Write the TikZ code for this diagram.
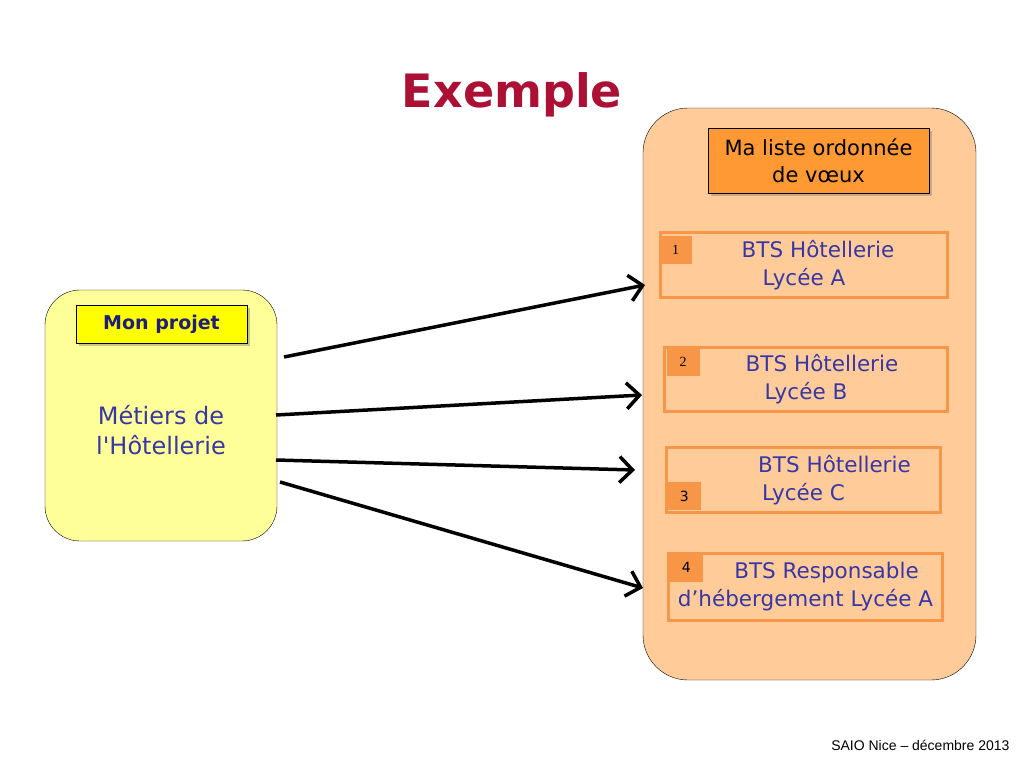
\documentclass[tikz,border=0pt]{standalone}
\usepackage{fontspec}
\setmainfont{DejaVu Sans}
\newfontfamily\footfont{Liberation Sans}
\newfontfamily\numfont{Liberation Serif}
\usepackage{tikz}
\usetikzlibrary{shadows}
\usetikzlibrary{positioning}
\usetikzlibrary{arrows.meta,shapes}
\usetikzlibrary{calc}
\definecolor{paleyellow}{RGB}{255,255,153}
\definecolor{brightyellow}{RGB}{255,255,0}
\definecolor{paleorange}{RGB}{255,204,153}
\definecolor{deeporange}{RGB}{255,153,51}
\definecolor{choiceorange}{RGB}{247,150,70}
\definecolor{inkblue}{RGB}{55,55,165}
\definecolor{navyblue}{RGB}{30,30,125}
\definecolor{titlered}{RGB}{172,16,52}
\tikzstyle{panel}=[draw=black,thin,inner sep=0pt]
\tikzstyle{headbox}=[draw=black,thin,inner sep=0pt,align=center,drop shadow={shadow xshift=3pt,shadow yshift=-3pt,opacity=0.45}]
\tikzstyle{choice}=[draw=choiceorange,line width=3pt,inner sep=0pt,align=center,text=inkblue,font=\fontsize{21.5}{28}\selectfont]
\tikzstyle{numbox}=[fill=choiceorange,minimum width=33pt,minimum height=28pt,inner sep=0pt,font=\fontsize{14}{16}\selectfont]
\tikzstyle{edge} = [draw,line width=3.5pt,-{Straight Barb[length=13pt,width=26pt]}]

\begin{document}
\begin{tikzpicture}[x=1pt,y=-1pt]

    % page
    \fill[white] (0,0) rectangle (1024,768);
    \useasboundingbox (0,0) rectangle (1024,768);

    \node[text=titlered,font=\bfseries\fontsize{46}{50}\selectfont] (title) at (512,95) {Exemple};

    % left panel: the project
    \node[panel,fill=paleyellow,rounded corners=35pt,minimum width=232pt,minimum height=251pt] (projet) at (161,415.5) {};
    \node[headbox,fill=brightyellow,minimum width=171pt,minimum height=38pt,text=navyblue,font=\bfseries\fontsize{19}{21}\selectfont] (monprojet) at (161.5,324) {Mon projet};
    \node[align=center,text=inkblue,font=\fontsize{24}{30}\selectfont] (metiers) at (161,430) {Métiers de\\l\textquotesingle Hôtellerie};

    % right panel: the ordered list
    \node[panel,fill=paleorange,rounded corners=45pt,minimum width=333pt,minimum height=572pt] (voeux) at (809.5,394) {};
    \node[headbox,fill=deeporange,minimum width=221pt,minimum height=65pt,font=\fontsize{21}{27}\selectfont] (liste) at (818.5,160.5) {Ma liste ordonnée\\de vœux};

    % the four choices
    \foreach \pos/\name/\bw/\bh/\txt in {{(804,265)/c1/287/65/{\hspace*{28pt}BTS Hôtellerie\\Lycée A}},
                                        {(806,379.5)/c2/283/64/{\hspace*{32pt}BTS Hôtellerie\\Lycée B}},
                                        {(803.5,480)/c3/274/65/{\hspace*{62pt}BTS Hôtellerie\\Lycée C}},
                                        {(805.5,587)/c4/274/67/{\hspace*{42pt}BTS Responsable\\d’hébergement Lycée A}}}
        \node[choice,minimum width=\bw pt,minimum height=\bh pt] (\name) at \pos {\txt};

    % rank of each choice
    \node[numbox,font=\numfont\fontsize{14}{16}\selectfont,below right=4.5pt and 0pt of c1.north west] (n1) {1};
    \node[numbox,font=\numfont\fontsize{14}{16}\selectfont,below right=1.5pt and 3.5pt of c2.north west] (n2) {2};
    \node[numbox,above right=3.5pt and 2.5pt of c3.south west] (n3) {3};
    \node[numbox,below right=1.5pt and 2.5pt of c4.north west] (n4) {4};

    % arrows from the project to the list
    \coordinate (s1) at (284,357);
    \coordinate (s2) at (276,415);
    \coordinate (s3) at (276,460);
    \coordinate (s4) at (280,482);
    \coordinate (e1) at (645,285);
    \coordinate (e2) at (642,395);
    \coordinate (e3) at (635,470);
    \coordinate (e4) at (643,588);
    \foreach \i in {1,...,4}
        \path[edge] (s\i) -- (e\i);

    \node[anchor=east,font=\footfont\fontsize{14}{16}\selectfont] (footer) at (1013,745) {SAIO Nice – décembre 2013};

\end{tikzpicture}
\end{document}
